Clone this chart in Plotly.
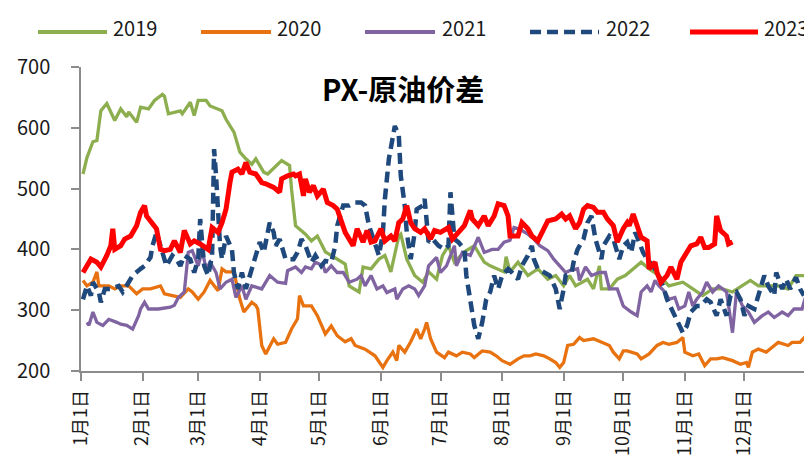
import plotly.graph_objects as go

# ---------------- data (day of year, value) ----------------
years = ["2019", "2020", "2021", "2022", "2023"]
colors = ["#8DAE4F", "#E8720F", "#8064A2", "#1F497D", "#FF0000"]
widths = [3.3, 3.3, 3.3, 4.5, 5]
dashes = ["solid", "solid", "solid", "11px,6px", "solid"]

days_2019 = [1,3,6,8,10,13,17,20,23,24,28,30,34,37,41,42,44,47,50,51,55,57,59,63,65,71,73,77,80,83,
             86,88,92,94,101,105,106,108,113,116,119,123,129,133,135,140,142,146,150,153,
             156,160,161,164,168,172,175,179,182,185,188,193,198,203,206,213,214,216,220,225,
             230,235,239,243,246,249,255,258,261,262,266,270,274,279,282,286,291,296,303,308,
             313,318,323,328,333,337,341,346,351,356,360,365]
vals_2019 = [524,551,577,579,628,640,612,631,618,626,609,634,631,645,655,652,623,626,628,623,
             642,620,645,645,636,628,614,593,560,549,540,549,527,524,546,538,499,439,425,414,
             422,396,384,376,340,330,371,368,384,390,363,422,425,384,357,346,363,351,390,406,
             379,396,406,379,373,363,388,363,379,357,368,351,357,340,357,340,351,335,373,335,
             335,351,357,371,379,368,357,340,346,335,324,335,335,330,340,349,340,340,340,335,
             357,357]

days_2020 = [1,3,6,8,9,14,17,20,24,28,31,35,40,42,46,50,54,56,59,62,65,69,71,73,77,80,82,86,88,89,
             91,93,97,99,103,106,109,110,112,116,119,123,126,129,133,136,138,143,148,152,154,157,159,160,
             163,166,169,171,173,174,176,179,183,185,189,192,196,198,202,206,209,212,216,220,223,226,229,
             233,236,239,241,243,245,248,251,253,258,263,266,268,271,273,275,280,282,286,290,293,296,300,
             303,304,308,311,314,317,320,323,328,332,335,336,338,341,345,348,351,356,358,362,365]
vals_2020 = [349,340,346,363,340,340,335,340,340,327,335,335,340,327,324,321,335,330,318,330,349,332,368,363,363,318,297,313,308,302,
             242,228,253,244,247,269,286,324,307,307,291,261,274,258,248,253,242,236,225,206,217,231,217,242,
             231,248,269,253,269,280,253,231,222,231,225,231,228,222,233,231,225,217,211,220,225,225,228,
             225,220,214,206,214,242,244,255,250,253,247,242,231,220,233,233,228,220,228,242,247,244,247,
             255,231,225,228,209,220,220,222,217,211,214,206,231,236,231,239,247,242,247,247,258]

days_2021 = [3,4,6,8,11,14,18,20,23,26,29,30,32,34,39,45,47,49,52,54,56,59,61,63,65,68,70,73,76,78,81,83,86,91,
             95,99,103,104,108,111,113,116,118,122,123,126,129,132,135,139,141,143,146,149,152,154,158,159,162,
             165,168,170,173,175,179,181,184,188,189,192,196,200,203,207,210,213,216,218,221,225,228,231,235,
             238,241,244,246,250,251,254,257,261,264,266,270,273,277,280,282,285,287,289,291,294,296,299,301,
             304,306,308,310,313,315,318,321,325,328,330,333,336,339,343,346,349,353,356,359,363,365]
vals_2021 = [280,275,297,280,275,285,280,277,275,269,291,302,313,302,302,305,308,321,330,395,398,373,398,368,379,362,335,346,351,321,340,318,340,335,
             357,346,344,365,371,362,371,368,379,373,362,373,362,362,346,351,357,340,357,335,340,329,335,318,335,
             340,335,324,340,373,387,362,373,406,373,395,390,420,395,400,400,412,415,436,433,425,417,406,398,
             384,373,362,365,368,349,371,357,362,362,335,335,307,297,291,330,340,330,349,340,330,318,321,302,
             307,330,307,318,330,346,330,340,330,263,330,307,297,280,291,297,288,297,291,302,302,324]

days_2022 = [1,3,5,6,9,10,12,15,19,21,24,26,30,32,35,36,38,40,41,43,46,48,50,52,55,57,59,60,62,64,66,67,68,69,70,71,73,76,77,79,81,83,86,88,
             90,92,95,97,98,100,102,103,107,109,111,113,116,118,121,123,126,128,129,132,135,138,141,143,145,148,150,152,153,155,157,158,160,161,163,
             164,166,168,169,172,173,174,175,177,180,183,185,186,187,188,190,193,194,196,198,200,202,204,206,208,210,212,215,217,220,222,225,227,228,
             230,233,236,239,241,243,244,247,248,250,253,255,257,259,262,263,266,268,271,273,275,277,279,281,283,285,288,290,293,295,298,300,303,305,
             307,310,312,315,317,320,322,325,327,330,332,334,336,339,341,344,346,349,350,353,355,357,360,362,364]
vals_2022 = [318,340,324,346,330,313,335,335,340,330,346,357,368,373,387,406,428,406,390,373,390,384,373,390,384,362,384,450,373,357,390,565,521,466,406,384,422,400,362,335,362,335,368,384,
             412,395,444,428,406,417,395,384,384,395,417,406,379,390,373,381,379,406,439,472,472,477,477,472,439,406,390,428,483,549,592,603,587,521,472,
             428,384,428,466,472,483,450,412,417,406,400,406,494,450,417,412,400,357,318,275,253,280,318,330,357,335,357,368,362,351,373,390,406,384,
             368,362,357,335,302,335,357,362,379,400,417,444,455,417,384,406,422,417,384,406,412,395,428,412,395,384,373,362,340,318,297,280,263,274,
             297,307,307,318,313,291,318,291,324,330,318,291,307,302,324,357,340,324,362,335,351,335,354,335,324]

days_2023 = [1,3,5,8,10,13,15,16,17,20,22,25,28,30,32,33,36,38,40,42,45,47,50,52,55,57,60,64,66,69,71,73,75,76,79,81,83,85,88,91,93,97,
             100,101,104,107,108,110,112,113,115,117,119,122,124,127,129,131,133,137,139,142,144,146,148,151,153,156,158,160,162,164,166,168,171,173,
             176,178,181,185,187,190,193,196,197,200,203,205,208,210,213,215,216,220,222,225,227,230,233,235,239,242,244,246,249,251,253,255,258,
             260,263,265,268,270,273,275,276,278,280,282,285,286,289,290,292,295,297,300,302,305,307,310,312,314,316,319,320,322,325,326,328]
vals_2023 = [362,373,384,379,371,390,406,434,400,406,417,422,439,461,472,455,444,434,400,398,400,414,395,431,409,414,409,400,436,428,444,466,510,527,532,524,543,527,524,510,508,502,
             494,516,521,524,521,524,488,516,494,505,488,499,477,472,466,444,428,406,434,412,431,412,414,434,414,422,414,444,450,472,444,434,428,434,
             417,431,428,436,417,428,439,464,450,439,455,439,455,475,472,455,422,422,444,434,422,414,434,447,450,458,450,455,434,444,466,472,469,
             461,461,450,439,412,434,444,439,458,439,420,414,368,379,362,346,357,371,351,379,395,406,409,420,403,403,409,455,431,422,409,412]

series_days = [days_2019, days_2020, days_2021, days_2022, days_2023]
series_vals = [vals_2019, vals_2020, vals_2021, vals_2022, vals_2023]

month_ticks = [0, 31, 59, 90, 120, 151, 181, 212, 243, 273, 304, 334]
month_labels = ["1月1日", "2月1日", "3月1日", "4月1日", "5月1日", "6月1日",
                "7月1日", "8月1日", "9月1日", "10月1日", "11月1日", "12月1日"]

title_text = "PX-原油价差"

for d, v, y in zip(series_days, series_vals, years):
    assert len(d) == len(v), (y, len(d), len(v))

# ---------------- figure ----------------
FONT = "Noto Sans CJK SC"
fig = go.Figure()
for y, d, v, c, w, ds in zip(years, series_days, series_vals, colors, widths, dashes):
    fig.add_trace(go.Scatter(x=d, y=v, mode="lines", name=y, showlegend=False,
                             line=dict(color=c, width=w, dash=ds)))

# the page body adds an 8px margin, so the figure is drawn 8px in and 8px down
OFF = 8
W, H = 812 - OFF, 457 - OFF
# target page positions of the plot area: left 81, right 806, top 67, bottom 371
L, R, T, B = 81 - OFF, W - (806 - OFF), 67 - OFF, H - (371 - OFF)
pw, ph = W - L - R, H - T - B

def px_to_paper_x(px):
    return (px - OFF - L) / pw

def px_to_paper_y(py):
    return (H - B - (py - OFF)) / ph

# manual legend (long line samples like the original)
legend_line_x = [(38, 107), (201, 271), (365, 435), (530, 599), (690, 758)]
legend_text_x = [112, 276, 441, 605, 763]
legend_y = 32
for (x0, x1), tx, y, c, w, ds in zip(legend_line_x, legend_text_x, years, colors, widths, dashes):
    fig.add_shape(type="line", xref="paper", yref="paper",
                  x0=px_to_paper_x(x0), x1=px_to_paper_x(x1),
                  y0=px_to_paper_y(legend_y), y1=px_to_paper_y(legend_y),
                  line=dict(color=c, width=max(w, 4), dash=ds))
    fig.add_annotation(xref="paper", yref="paper", x=px_to_paper_x(tx), y=px_to_paper_y(28),
                       text=y, showarrow=False, xanchor="left", yanchor="middle",
                       borderpad=0,
                       font=dict(family=FONT, size=20, color="#1a1a1a"))

fig.add_annotation(xref="paper", yref="paper", x=px_to_paper_x(403), y=px_to_paper_y(88),
                   text="<b>" + title_text + "</b>", showarrow=False,
                   xanchor="center", yanchor="middle",
                   font=dict(family=FONT, size=29, color="#000000"))

axis_grey = "#8C8C8C"
fig.update_layout(
    width=W, height=H,
    margin=dict(l=L, r=R, t=T, b=B, pad=0, autoexpand=False),
    paper_bgcolor="white", plot_bgcolor="white",
    showlegend=False,
    xaxis=dict(range=[0, 365], tickmode="array", tickvals=month_ticks + [365],
               ticktext=month_labels + [""], tickangle=-90, automargin=False,
               ticks="outside", ticklen=8, tickwidth=1.5, tickcolor=axis_grey,
               showline=True, linecolor=axis_grey, linewidth=1.5,
               showgrid=False, zeroline=False, ticklabelstandoff=2,
               tickfont=dict(family=FONT, size=18, color="#1a1a1a")),
    yaxis=dict(range=[200, 700], tickmode="array", tickvals=[200, 300, 400, 500, 600, 700],
               automargin=False,
               ticks="outside", ticklen=8, tickwidth=1.5, tickcolor=axis_grey,
               showline=True, linecolor=axis_grey, linewidth=1.5,
               showgrid=False, zeroline=False, ticklabelstandoff=17,
               tickfont=dict(family=FONT, size=20, color="#1a1a1a")),
)

fig.write_html("out.html")
